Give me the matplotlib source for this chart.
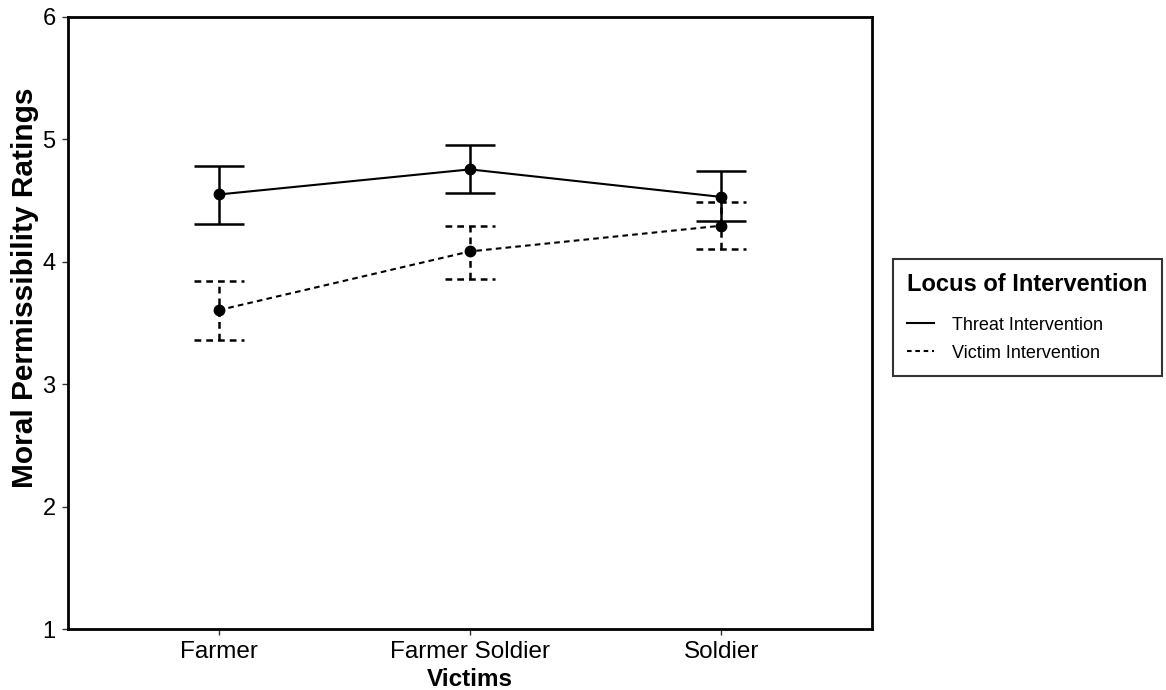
import matplotlib
matplotlib.use("Agg")
import matplotlib.pyplot as plt
from matplotlib.lines import Line2D

plt.rcParams['font.family'] = ['Liberation Sans', 'DejaVu Sans']

victims = ["Farmer", "Farmer Soldier", "Soldier"]
threat_mean = [4.55, 4.755, 4.53]
threat_lo = [4.31, 4.56, 4.33]
threat_hi = [4.78, 4.955, 4.745]
victim_mean = [3.605, 4.085, 4.295]
victim_lo = [3.36, 3.86, 4.105]
victim_hi = [3.845, 4.29, 4.49]
series_names = ["Threat Intervention", "Victim Intervention"]
yticks = [1, 2, 3, 4, 5, 6]

fig = plt.figure(figsize=(11.66, 6.9), dpi=100)
ax = fig.add_axes([68/1166, 1-629/690, (872-68)/1166, (629-17)/690])

x = list(range(len(victims)))
dash = (0, (2.7, 2))
cap = 0.1

def draw(mean, lo, hi, ls):
    ax.plot(x, mean, color='black', lw=1.5, linestyle=ls, zorder=3)
    ax.vlines(x, lo, hi, color='black', lw=1.8, linestyles=[ls], zorder=3)
    ax.hlines(lo, [i - cap for i in x], [i + cap for i in x], color='black', lw=1.8, linestyles=[ls], zorder=3)
    ax.hlines(hi, [i - cap for i in x], [i + cap for i in x], color='black', lw=1.8, linestyles=[ls], zorder=3)
    ax.plot(x, mean, 'o', color='black', ms=7.5, zorder=4)

draw(threat_mean, threat_lo, threat_hi, '-')
draw(victim_mean, victim_lo, victim_hi, dash)

ax.set_xlim(-0.6, 2.6)
ax.set_ylim(1, 6)
ax.set_xticks(x)
ax.set_xticklabels(victims, fontsize=17.5)
ax.set_yticks(yticks)
ax.set_yticklabels([str(v) for v in yticks], fontsize=17)
ax.tick_params(axis='both', length=4, width=1, color='#333333', labelcolor='black')
ax.tick_params(axis='x', pad=5)
ax.tick_params(axis='y', pad=5)
for s in ax.spines.values():
    s.set_linewidth(2)
    s.set_color('black')
ax.set_xlabel("Victims", fontsize=17.5, fontweight='bold', labelpad=3)
ax.set_ylabel("Moral Permissibility Ratings", fontsize=21.5, fontweight='bold')
ax.yaxis.set_label_coords(-0.036, 0.557)

handles = [Line2D([], [], color='black', lw=1.5, linestyle='-'),
           Line2D([], [], color='black', lw=1.5, linestyle=(0, (2.2, 1.8)))]
leg = fig.legend(handles, series_names, loc='upper left',
                 bbox_to_anchor=(893/1166, 1-259/690), fontsize=13,
                 title="Locus of Intervention",
                 title_fontproperties={'weight': 'bold', 'size': 17},
                 frameon=True, fancybox=False, edgecolor='black',
                 handlelength=1.45, handletextpad=1.0, alignment='left',
                 borderpad=0.8, labelspacing=0.62, borderaxespad=0)
leg.get_frame().set_linewidth(1.5)
leg._legend_box.sep = 14.5

fig.savefig("out.png", dpi=100)
